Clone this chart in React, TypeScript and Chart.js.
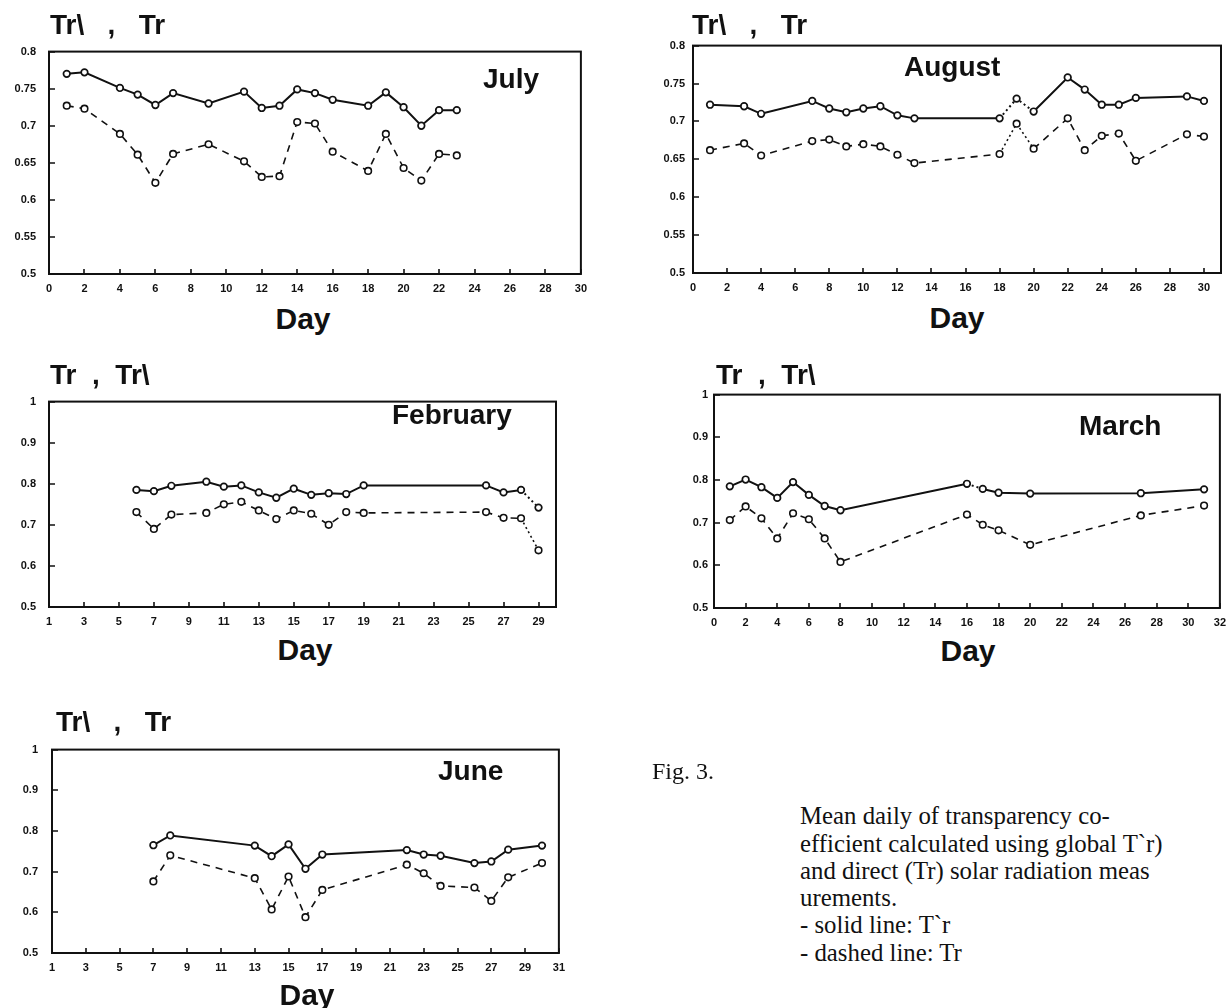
import React, { useEffect, useRef } from "react";
import { Chart, registerables } from "chart.js";

Chart.register(...registerables);

// ---------- data ----------
const julyDays = [1, 2, 4, 5, 6, 7, 9, 11, 12, 13, 14, 15, 16, 18, 19, 20, 21, 22, 23];
const julyGlobal = [0.770, 0.772, 0.751, 0.742, 0.728, 0.744, 0.730, 0.746, 0.724, 0.727, 0.749, 0.744, 0.735, 0.727, 0.745, 0.725, 0.700, 0.721, 0.721];
const julyDirect = [0.727, 0.723, 0.689, 0.661, 0.623, 0.662, 0.675, 0.652, 0.631, 0.632, 0.705, 0.703, 0.665, 0.639, 0.689, 0.643, 0.626, 0.662, 0.660];

const augDays = [1, 3, 4, 7, 8, 9, 10, 11, 12, 13, 18, 19, 20, 22, 23, 24, 25, 26, 29, 30];
const augGlobal = [0.722, 0.720, 0.710, 0.727, 0.717, 0.712, 0.717, 0.720, 0.708, 0.704, 0.704, 0.730, 0.713, 0.758, 0.742, 0.722, 0.722, 0.731, 0.733, 0.727];
const augDirect = [0.662, 0.671, 0.655, 0.674, 0.676, 0.667, 0.670, 0.667, 0.656, 0.645, 0.657, 0.697, 0.664, 0.704, 0.662, 0.681, 0.684, 0.648, 0.683, 0.680];

const febDays = [6, 7, 8, 10, 11, 12, 13, 14, 15, 16, 17, 18, 19, 26, 27, 28, 29];
const febGlobal = [0.785, 0.782, 0.795, 0.805, 0.793, 0.796, 0.779, 0.766, 0.788, 0.773, 0.777, 0.775, 0.796, 0.796, 0.779, 0.785, 0.742];
const febDirect = [0.731, 0.690, 0.725, 0.729, 0.750, 0.756, 0.735, 0.714, 0.735, 0.727, 0.700, 0.731, 0.729, 0.731, 0.717, 0.716, 0.638];

const marDays = [1, 2, 3, 4, 5, 6, 7, 8, 16, 17, 18, 20, 27, 31];
const marGlobal = [0.785, 0.801, 0.783, 0.758, 0.795, 0.765, 0.739, 0.729, 0.791, 0.779, 0.770, 0.768, 0.769, 0.778];
const marDirect = [0.706, 0.738, 0.710, 0.663, 0.722, 0.708, 0.663, 0.608, 0.719, 0.695, 0.682, 0.648, 0.717, 0.740];

const junDays = [7, 8, 13, 14, 15, 16, 17, 22, 23, 24, 26, 27, 28, 30];
const junGlobal = [0.765, 0.789, 0.764, 0.738, 0.767, 0.707, 0.742, 0.753, 0.742, 0.739, 0.721, 0.725, 0.754, 0.764];
const junDirect = [0.676, 0.740, 0.684, 0.607, 0.688, 0.588, 0.655, 0.717, 0.696, 0.665, 0.661, 0.628, 0.686, 0.721];

// ---------- tick values / labels ----------
const evenTicks30 = [0, 2, 4, 6, 8, 10, 12, 14, 16, 18, 20, 22, 24, 26, 28, 30];
const evenTicks32 = [0, 2, 4, 6, 8, 10, 12, 14, 16, 18, 20, 22, 24, 26, 28, 30, 32];
const oddTicks29 = [1, 3, 5, 7, 9, 11, 13, 15, 17, 19, 21, 23, 25, 27, 29];
const oddTicks31 = [1, 3, 5, 7, 9, 11, 13, 15, 17, 19, 21, 23, 25, 27, 29, 31];
const yTicksSummer = [0.5, 0.55, 0.6, 0.65, 0.7, 0.75, 0.8];
const yLabelsSummer = ["0.5", "0.55", "0.6", "0.65", "0.7", "0.75", "0.8"];
const yTicksWide = [0.5, 0.6, 0.7, 0.8, 0.9, 1];
const yLabelsWide = ["0.5", "0.6", "0.7", "0.8", "0.9", "1"];

// ---------- text ----------
const captionLines = [
  "Mean daily of transparency co-",
  "efficient calculated using global T`r)",
  "and direct (Tr) solar radiation meas",
  "urements.",
  "- solid line: T`r",
  "- dashed line: Tr",
];

type Panel = {
  key: string;
  title: string;
  month: string;
  days: number[];
  global: number[];
  direct: number[];
  xMin: number;
  xMax: number;
  xTicks: number[];
  yMin: number;
  yMax: number;
  yTicks: number[];
  yLabels: string[];
  rect: { l: number; t: number; r: number; b: number };
  yPad: number;
  titlePos: { x: number; y: number };
  monthPos: { x: number; y: number };
  dayPos: { x: number; y: number };
  dottedSolid: number[];
  dottedDashed: number[];
};

const panels: Panel[] = [
  {
    key: "july", title: "Tr\\   ,   Tr", month: "July",
    days: julyDays, global: julyGlobal, direct: julyDirect,
    xMin: 0, xMax: 30, xTicks: evenTicks30,
    yMin: 0.5, yMax: 0.8, yTicks: yTicksSummer, yLabels: yLabelsSummer,
    rect: { l: 49, t: 42, r: 583, b: 274 }, yPad: 13,
    titlePos: { x: 50, y: 35 }, monthPos: { x: 483, y: 89 }, dayPos: { x: 303, y: 329 },
    dottedSolid: [], dottedDashed: [],
  },
  {
    key: "august", title: "Tr\\   ,   Tr", month: "August",
    days: augDays, global: augGlobal, direct: augDirect,
    xMin: 0, xMax: 31, xTicks: evenTicks30,
    yMin: 0.5, yMax: 0.8, yTicks: yTicksSummer, yLabels: yLabelsSummer,
    rect: { l: 693, t: 41, r: 1221, b: 273 }, yPad: 8,
    titlePos: { x: 692, y: 35 }, monthPos: { x: 904, y: 77 }, dayPos: { x: 957, y: 328 },
    dottedSolid: [18, 19], dottedDashed: [18, 19],
  },
  {
    key: "february", title: "Tr  ,  Tr\\", month: "February",
    days: febDays, global: febGlobal, direct: febDirect,
    xMin: 1, xMax: 30, xTicks: oddTicks29,
    yMin: 0.5, yMax: 1, yTicks: yTicksWide, yLabels: yLabelsWide,
    rect: { l: 49, t: 392, r: 556, b: 607 }, yPad: 13,
    titlePos: { x: 50, y: 385 }, monthPos: { x: 392, y: 425 }, dayPos: { x: 305, y: 660 },
    dottedSolid: [28], dottedDashed: [28],
  },
  {
    key: "march", title: "Tr  ,  Tr\\", month: "March",
    days: marDays, global: marGlobal, direct: marDirect,
    xMin: 0, xMax: 32, xTicks: evenTicks32,
    yMin: 0.5, yMax: 1, yTicks: yTicksWide, yLabels: yLabelsWide,
    rect: { l: 714, t: 392, r: 1222, b: 608 }, yPad: 6,
    titlePos: { x: 716, y: 385 }, monthPos: { x: 1079, y: 436 }, dayPos: { x: 968, y: 661 },
    dottedSolid: [16], dottedDashed: [],
  },
  {
    key: "june", title: "Tr\\   ,   Tr", month: "June",
    days: junDays, global: junGlobal, direct: junDirect,
    xMin: 1, xMax: 31, xTicks: oddTicks31,
    yMin: 0.5, yMax: 1, yTicks: yTicksWide, yLabels: yLabelsWide,
    rect: { l: 52, t: 739, r: 561, b: 953 }, yPad: 14,
    titlePos: { x: 56, y: 732 }, monthPos: { x: 438, y: 781 }, dayPos: { x: 307, y: 1005 },
    dottedSolid: [], dottedDashed: [],
  },
];

// ---------- layout constants ----------
const PAD_TOP = 10;
const PAD_RIGHT = 12;
const Y_AXIS_W = 48;
const X_AXIS_H = 26;
const INK = "#111";
const SANS = "'Liberation Sans', Arial, sans-serif";
const SERIF = "'Liberation Serif', 'Times New Roman', serif";

const framePlugin = {
  id: "frameAndTicks",
  afterDatasetsDraw(chart: any) {
    const { ctx, chartArea: a, scales } = chart;
    ctx.save();
    ctx.strokeStyle = INK;
    ctx.lineWidth = 2;
    ctx.strokeRect(a.left, a.top, a.right - a.left, a.bottom - a.top);
    ctx.lineWidth = 1.6;
    ctx.beginPath();
    scales.x.ticks.forEach((t: any) => {
      const px = Math.round(scales.x.getPixelForValue(t.value));
      ctx.moveTo(px, a.bottom);
      ctx.lineTo(px, a.bottom - 5);
    });
    scales.y.ticks.forEach((t: any) => {
      const py = Math.round(scales.y.getPixelForValue(t.value));
      ctx.moveTo(a.left, py);
      ctx.lineTo(a.left + 6, py);
    });
    ctx.stroke();
    ctx.restore();
  },
};

function PanelChart({ p }: { p: Panel }) {
  const ref = useRef<HTMLCanvasElement | null>(null);
  const w = p.rect.r - p.rect.l + Y_AXIS_W + PAD_RIGHT;
  const h = p.rect.b - p.rect.t + PAD_TOP + X_AXIS_H;

  useEffect(() => {
    if (!ref.current) return;
    const tickFont = { family: SANS, size: 11, weight: "bold" as const };
    const dotted = [2, 3];
    const chart = new Chart(ref.current, {
      type: "line",
      data: {
        datasets: [
          {
            label: "T`r",
            data: p.days.map((d, i) => ({ x: d, y: p.global[i] })),
            borderColor: INK,
            borderWidth: 2,
            pointRadius: 3.3,
            pointBackgroundColor: "#fff",
            pointBorderColor: INK,
            pointBorderWidth: 1.7,
            tension: 0,
            segment: {
              borderDash: (ctx: any) =>
                p.dottedSolid.includes(ctx.p0.parsed.x) ? dotted : undefined,
            },
          },
          {
            label: "Tr",
            data: p.days.map((d, i) => ({ x: d, y: p.direct[i] })),
            borderColor: INK,
            borderWidth: 1.6,
            borderDash: [7, 6],
            pointRadius: 3.3,
            pointBackgroundColor: "#fff",
            pointBorderColor: INK,
            pointBorderWidth: 1.6,
            tension: 0,
            segment: {
              borderDash: (ctx: any) =>
                p.dottedDashed.includes(ctx.p0.parsed.x) ? dotted : undefined,
            },
          },
        ],
      },
      options: {
        animation: false,
        responsive: false,
        devicePixelRatio: 1,
        events: [],
        layout: { padding: { left: 0, top: PAD_TOP, right: PAD_RIGHT, bottom: 0 } },
        plugins: { legend: { display: false }, tooltip: { enabled: false }, title: { display: false } },
        scales: {
          x: {
            type: "linear",
            min: p.xMin,
            max: p.xMax,
            grid: { display: false, drawTicks: false },
            border: { display: false },
            ticks: {
              autoSkip: false,
              maxRotation: 0,
              padding: 8,
              color: INK,
              font: tickFont,
              callback: (v: any) => String(v),
            },
            afterBuildTicks: (s: any) => {
              s.ticks = p.xTicks.map((v) => ({ value: v }));
            },
            afterFit: (s: any) => {
              s.height = X_AXIS_H;
            },
          },
          y: {
            type: "linear",
            min: p.yMin,
            max: p.yMax,
            grid: { display: false, drawTicks: false },
            border: { display: false },
            ticks: {
              autoSkip: false,
              padding: p.yPad,
              color: INK,
              font: tickFont,
              callback: (v: any) => {
                const i = p.yTicks.findIndex((t) => Math.abs(t - Number(v)) < 1e-6);
                return i >= 0 ? p.yLabels[i] : "";
              },
            },
            afterBuildTicks: (s: any) => {
              s.ticks = p.yTicks.map((v) => ({ value: v }));
            },
            afterFit: (s: any) => {
              s.width = Y_AXIS_W;
            },
          },
        },
      },
      plugins: [framePlugin],
    } as any);
    return () => chart.destroy();
  }, [p]);

  return (
    <canvas
      ref={ref}
      width={w}
      height={h}
      style={{
        position: "absolute",
        left: p.rect.l - Y_AXIS_W,
        top: p.rect.t - PAD_TOP,
        width: w,
        height: h,
      }}
    />
  );
}

function Label({
  text, x, y, size, family = SANS, weight = 700, anchor = "start",
}: {
  text: string; x: number; y: number; size: number; family?: string; weight?: number; anchor?: "start" | "middle";
}) {
  const k = family === SERIF ? 0.8375 : 0.8465;
  return (
    <div
      style={{
        position: "absolute",
        left: x,
        top: y - k * size,
        fontFamily: family,
        fontWeight: weight,
        fontSize: size,
        lineHeight: 1,
        whiteSpace: "pre",
        color: INK,
        transform: anchor === "middle" ? "translateX(-50%)" : undefined,
      }}
    >
      {text}
    </div>
  );
}

export default function App() {
  return (
    <div
      style={{
        position: "absolute",
        left: 0,
        top: 0,
        width: 1228,
        height: 1008,
        overflow: "hidden",
        background: "#fff",
      }}
    >
      {panels.map((p) => (
        <React.Fragment key={p.key}>
          <PanelChart p={p} />
          <Label text={p.title} x={p.titlePos.x} y={p.titlePos.y} size={28} />
          <Label text={p.month} x={p.monthPos.x} y={p.monthPos.y} size={28} />
          <Label text="Day" x={p.dayPos.x} y={p.dayPos.y} size={30} anchor="middle" />
        </React.Fragment>
      ))}
      <Label text="Fig. 3." x={652} y={779} size={24} family={SERIF} weight={400} />
      {captionLines.map((line, i) => (
        <Label key={i} text={line} x={800} y={825 + i * 27.3} size={24.8} family={SERIF} weight={400} />
      ))}
    </div>
  );
}
